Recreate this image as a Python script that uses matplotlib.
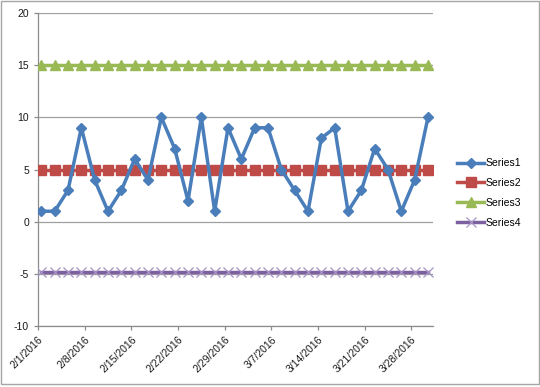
import matplotlib
matplotlib.use("Agg")
import matplotlib.pyplot as plt
import matplotlib.dates as mdates
import numpy as np
import pandas as pd
from matplotlib.patches import Rectangle

plt.rcParams['font.family'] = ['Liberation Sans', 'DejaVu Sans']

dates = pd.date_range("2016-02-01 12:00", periods=30, freq="2D")
series1 = [1, 1, 3, 9, 4, 1, 3, 6, 4, 10, 7, 2, 10, 1, 9, 6, 9, 9, 5, 3, 1, 8, 9, 1, 3, 7, 5, 1, 4, 10]
series2 = [5] * 30
series3 = [15] * 30
series4 = [-4.8] * 30
tick_dates = pd.date_range("2016-02-01", periods=9, freq="7D")
tick_labels = ["2/1/2016", "2/8/2016", "2/15/2016", "2/22/2016", "2/29/2016",
               "3/7/2016", "3/14/2016", "3/21/2016", "3/28/2016"]

fig = plt.figure(figsize=(5.40, 3.87), dpi=100)
ax = fig.add_axes([38/540, 1 - 326/387, (433-38)/540, (326-13)/387])

lw = 2.5
ax.plot(dates, series1, color="#4A7EBB", lw=lw, marker="D", ms=5, label="Series1", zorder=5)
ax.plot(dates, series2, color="#BE4B48", lw=lw, marker="s", ms=6.5, label="Series2", zorder=4)
ax.plot(dates, series3, color="#98B954", lw=lw, marker="^", ms=6.5, label="Series3", zorder=4)
ax.plot(dates, series4, color="#7D60A0", lw=lw, marker="x", ms=7, mew=0.9, mec="#A594C4",
        label="Series4", zorder=4)

ax.set_ylim(-10, 20)
ax.set_yticks([-10, -5, 0, 5, 10, 15, 20])
ax.set_yticklabels(["-10", "-5", "0", "5", "10", "15", "20"])
ax.set_xlim(pd.Timestamp("2016-02-01"), pd.Timestamp("2016-03-31 06:00"))
ax.set_xticks(tick_dates)
ax.set_xticklabels(tick_labels, rotation=45, ha="right", rotation_mode="anchor")
ax.yaxis.grid(True, color="#A0A0A0", lw=0.9)
ax.set_axisbelow(True)
for s in ["top", "right"]:
    ax.spines[s].set_visible(False)
for s in ["left", "bottom"]:
    ax.spines[s].set_color("#8C8C8C")
    ax.spines[s].set_linewidth(0.9)
ax.tick_params(axis="both", labelsize=7.5, colors="#8C8C8C", labelcolor="#1A1A1A", length=3, width=0.9)
ax.tick_params(axis="x", pad=3)

leg = fig.legend(loc="center left", bbox_to_anchor=(452/540, 1 - 193/387), frameon=False,
                 fontsize=7.5, handlelength=2.6, handletextpad=0.1, labelspacing=0.95, borderpad=0)

fig.patches.append(Rectangle((0.002, 0.008), 0.996, 0.99, transform=fig.transFigure,
                             fill=False, ec="#A6A6A6", lw=1))

fig.savefig("out.png", dpi=100)
